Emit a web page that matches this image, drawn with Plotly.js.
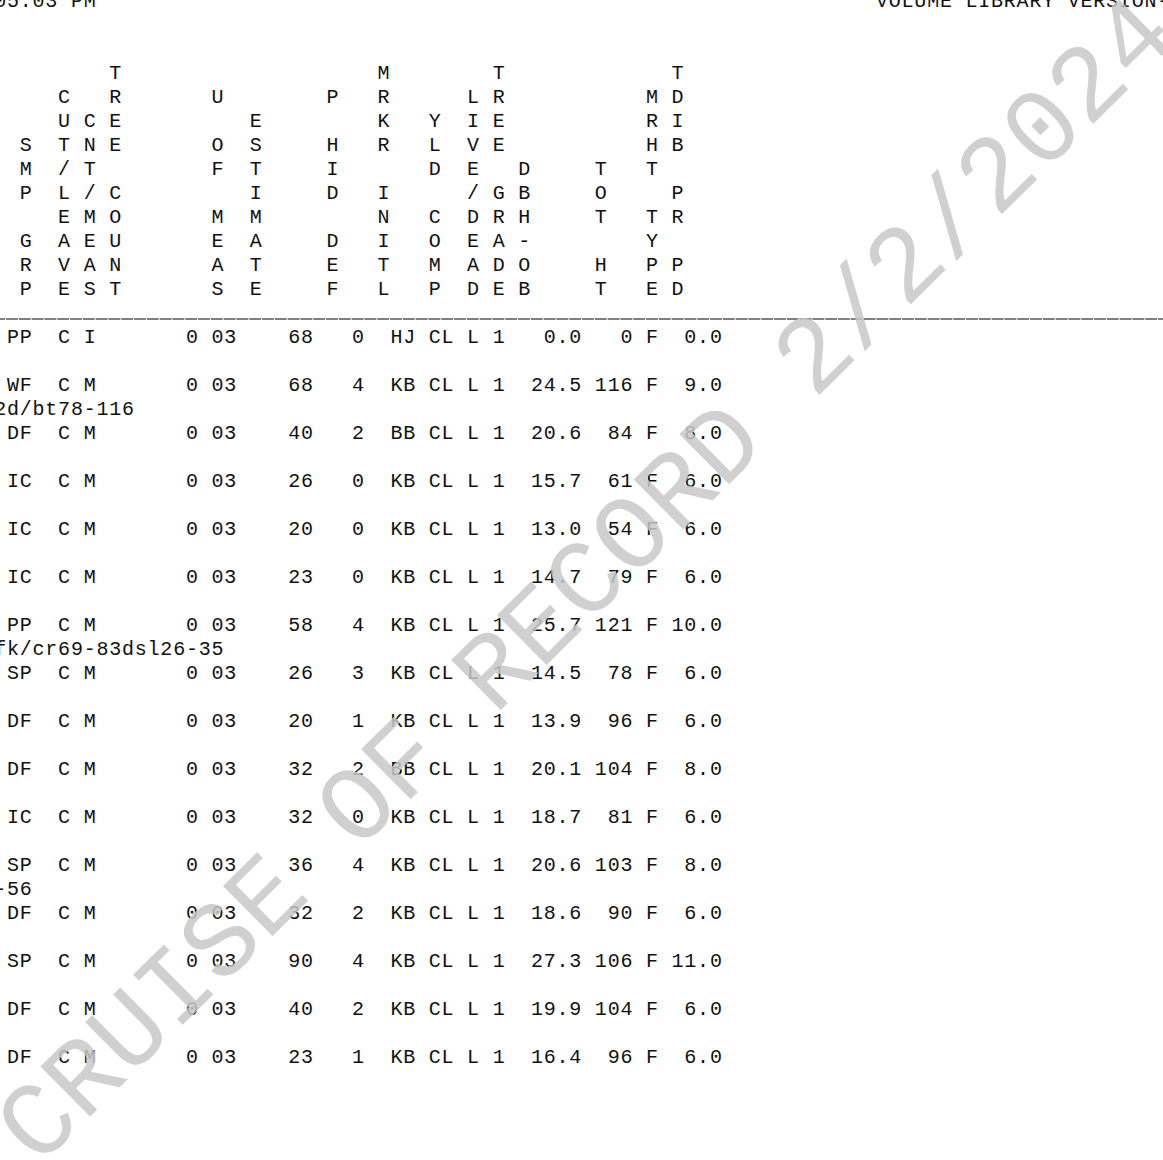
<!DOCTYPE html>
<html>
<head>
<meta charset="utf-8">
<script src="https://cdn.plot.ly/plotly-3.0.1.min.js"></script>
<style>
html,body{margin:0;padding:0;background:#fff;}
#chart{width:1163px;height:1160px;}
</style>
</head>
<body>
<div id="chart"></div>
<script>
// ---------- DATA ----------
const topLeftText  = '05:03 PM';
const topRightText = 'VOLUME LIBRARY VERSION-';

const headerLabels = [
  '   SMP GRP', ' CUT/LEAVE', '  CNT/MEAS', 'TREE COUNT', ' U OF MEAS',
  '  ESTIMATE', ' P HID DEF', 'MRKR INITL', '  YLD COMP', ' LIVE/DEAD',
  'TREE GRADE', '    DBH-OB', '    TOT HT', ' MRHT TYPE', 'TDIB PR PD'
];

const speciesCodes = ['PP','WF','DF','IC','IC','IC','PP','SP','DF','DF','IC','SP','DF','SP','DF','DF'];
const cutLeave     = ['C','C','C','C','C','C','C','C','C','C','C','C','C','C','C','C'];
const countMeas    = ['I','M','M','M','M','M','M','M','M','M','M','M','M','M','M','M'];
const treeCounts   = ['0','0','0','0','0','0','0','0','0','0','0','0','0','0','0','0'];
const unitsOfMeas  = ['03','03','03','03','03','03','03','03','03','03','03','03','03','03','03','03'];
const estimates    = [68, 68, 40, 26, 20, 23, 58, 26, 20, 32, 32, 36, 32, 90, 40, 23];
const hidDefects   = [0, 4, 2, 0, 0, 0, 4, 3, 1, 2, 0, 4, 2, 4, 2, 1];
const markerInits  = ['HJ','KB','BB','KB','KB','KB','KB','KB','KB','BB','KB','KB','KB','KB','KB','KB'];
const yieldComp    = ['CL','CL','CL','CL','CL','CL','CL','CL','CL','CL','CL','CL','CL','CL','CL','CL'];
const liveDead     = ['L','L','L','L','L','L','L','L','L','L','L','L','L','L','L','L'];
const treeGrades   = [1, 1, 1, 1, 1, 1, 1, 1, 1, 1, 1, 1, 1, 1, 1, 1];
const dbhOb        = [0.0, 24.5, 20.6, 15.7, 13.0, 14.7, 25.7, 14.5, 13.9, 20.1, 18.7, 20.6, 18.6, 27.3, 19.9, 16.4];
const totalHeights = [0, 116, 84, 61, 54, 79, 121, 78, 96, 104, 81, 103, 90, 106, 104, 96];
const mrhtTypes    = ['F','F','F','F','F','F','F','F','F','F','F','F','F','F','F','F'];
const tdibPrpd     = [0.0, 9.0, 8.0, 6.0, 6.0, 6.0, 10.0, 6.0, 6.0, 8.0, 6.0, 8.0, 6.0, 11.0, 6.0, 6.0];
const remarks      = ['', '2d/bt78-116', '', '', '', '', 'fk/cr69-83dsl26-35', '', '', '', '', '-56', '', '', '', ''];

const watermarkText = 'CRUISE OF RECORD 2/2/2024';

// ---------- LAYOUT (character grid positions) ----------
const headerCols = [1, 4, 6, 8, 16, 19, 25, 29, 33, 36, 38, 40, 46, 50, 52];
const HEADER_LINE0 = 3, RULE_LINE = 13.23, DATA_LINE0 = 14, ROW_STEP = 2;
const fieldSpec = [
  {vals: speciesCodes, end: 1},
  {vals: cutLeave, end: 4},
  {vals: countMeas, end: 6},
  {vals: treeCounts, end: 14},
  {vals: unitsOfMeas, end: 17},
  {vals: estimates.map(String), end: 23},
  {vals: hidDefects.map(String), end: 27},
  {vals: markerInits, end: 31},
  {vals: yieldComp, end: 34},
  {vals: liveDead, end: 36},
  {vals: treeGrades.map(String), end: 38},
  {vals: dbhOb.map(v => v.toFixed(1)), end: 44},
  {vals: totalHeights.map(String), end: 48},
  {vals: mrhtTypes, end: 50},
  {vals: tdibPrpd.map(v => v.toFixed(1)), end: 55}
];

const xs = [], ys = [], ts = [];
function putChars(str, startCol, line) {
  for (let i = 0; i < str.length; i++) {
    const ch = str[i];
    if (ch !== ' ') { xs.push(startCol + i); ys.push(line); ts.push(ch); }
  }
}
function putRight(str, endCol, line) { putChars(str, endCol - str.length + 1, line); }

putChars(topLeftText, -1, 0);
putChars(topRightText, 68, 0);

headerLabels.forEach((lab, k) => {
  for (let i = 0; i < lab.length; i++) {
    if (lab[i] !== ' ') { xs.push(headerCols[k]); ys.push(HEADER_LINE0 + i); ts.push(lab[i]); }
  }
});

speciesCodes.forEach((_, r) => {
  const line = DATA_LINE0 + r * ROW_STEP;
  fieldSpec.forEach(f => putRight(f.vals[r], f.end, line));
  if (remarks[r]) putChars(remarks[r], -1, line + 1);
});

const FONT = 'Liberation Mono, Courier New, monospace';
const PITCH = 12.78, LINE_H = 24, W = 1163, H = 1160;
const xmin = -13 / PITCH;
const yshift = 1.5 / LINE_H;

const traces = [
  {type: 'scatter', mode: 'lines', x: [-1.55, 90.5], y: [RULE_LINE, RULE_LINE],
   line: {color: '#555', width: 1.7, dash: '11.9px,0.9px'},
   hoverinfo: 'skip', showlegend: false},
  {type: 'scatter', mode: 'text', x: xs, y: ys, text: ts,
   textposition: 'middle center', textfont: {family: FONT, size: 20, color: '#111'},
   hoverinfo: 'skip', showlegend: false}
];

const layout = {
  width: W, height: H,
  margin: {l: 0, r: 0, t: 0, b: 0, pad: 0},
  paper_bgcolor: '#fff', plot_bgcolor: '#fff',
  xaxis: {visible: false, range: [xmin, xmin + W / PITCH], fixedrange: true},
  yaxis: {visible: false, range: [H / LINE_H - yshift, -yshift], fixedrange: true},
  showlegend: false,
  annotations: [{
    text: watermarkText, xref: 'paper', yref: 'paper', x: 0.5056, y: 0.4974,
    xanchor: 'center', yanchor: 'middle', showarrow: false, textangle: -44.7,
    font: {family: FONT, size: 107, color: 'rgba(200,200,200,0.85)'}
  }]
};

Plotly.newPlot('chart', traces, layout, {staticPlot: true, displayModeBar: false});
</script>
</body>
</html>
